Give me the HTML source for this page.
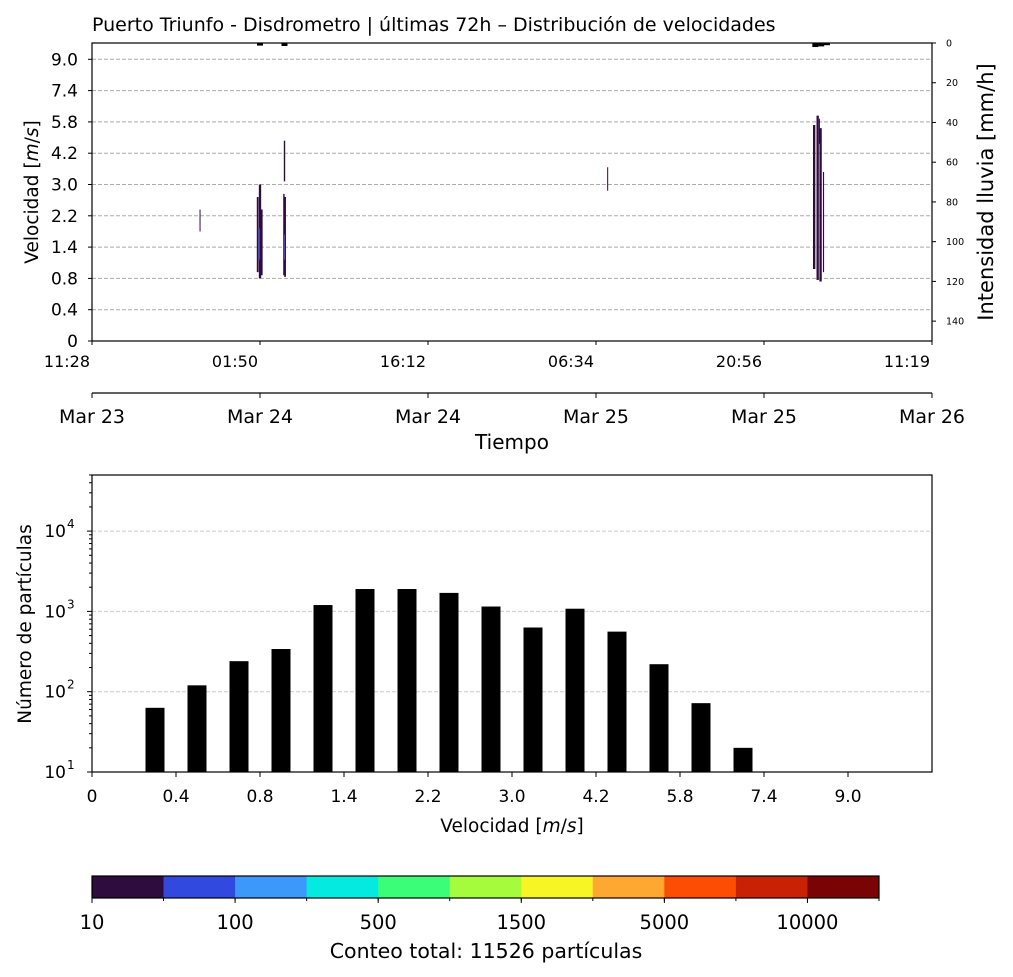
<!DOCTYPE html>
<html><head><meta charset="utf-8"><style>
body{margin:0;background:#fff;}
svg{display:block;font-family:"DejaVu Sans","Liberation Sans",sans-serif;}
</style></head><body>
<svg id="fig" width="1013" height="977" viewBox="0 0 1013 977" xmlns="http://www.w3.org/2000/svg">
<rect width="1013" height="977" fill="#fff"/>
<text x="92" y="31" font-size="19">Puerto Triunfo - Disdrometro | últimas 72h – Distribución de velocidades</text>
<g id="top"></g>
<g id="bot"></g>
<g id="cbar"></g>
</svg>
<script>
const velLabels=["0","0.4","0.8","1.4","2.2","3.0","4.2","5.8","7.4","9.0"];
const timeLabels=["11:28","01:50","16:12","06:34","20:56","11:19"];
const dateLabels=["Mar 23","Mar 24","Mar 24","Mar 25","Mar 25","Mar 26"];
const rainTicks=[0,20,40,60,80,100,120,140];
// rain intensity (mm/h) at event times
const rainTime=[14.4,16.5,62.0,62.5,63.0];
const rainValue=[0.8,1.0,1.5,1.2,0.6];
// heatmap events: time (hours since start), velocity-class range (index units), colour class
const evTime=[9.26,14.2,14.4,14.55,14.35,16.45,16.55,16.5,16.5,44.2,61.9,62.2,62.45,62.7,62.35];
const evVmin=[3.5,2.2,2.0,2.1,2.6,2.1,2.05,2.6,5.1,4.8,2.3,1.95,1.9,2.2,6.3];
const evVmax=[4.2,4.6,5.0,4.2,3.6,4.7,4.6,3.4,6.4,5.55,6.9,7.2,6.8,5.4,7.1];
const evWidth=[0.08,0.15,0.2,0.15,0.08,0.12,0.15,0.06,0.12,0.06,0.2,0.2,0.2,0.1,0.08];
const evClass=[0,0,0,0,1,0,0,1,0,0,0,0,0,0,0];
// histogram
const binCenters=[0.75,1.25,1.75,2.25,2.75,3.25,3.75,4.25,4.75,5.25,5.75,6.25,6.75,7.25,7.75];
const binCounts=[63,120,240,340,1200,1900,1900,1700,1150,630,1080,560,220,72,20];
const cbColors=["#2f0c3e","#3249e0","#3c98fb","#05eae0","#3cfd78","#a4fc3c","#f8f524","#fea731","#fd4c03","#c92103","#7a0403"];
const cbLabels=["10","100","500","1500","5000","10000"];
const totalCount=11526;

const NS="http://www.w3.org/2000/svg";
function mk(p,t,a,txt){const e=document.createElementNS(NS,t);for(const k in a)e.setAttribute(k,a[k]);if(txt!==undefined)e.textContent=txt;p.appendChild(e);return e;}
const T=document.getElementById('top');
const tx=h=>92+h/72*840, vy=i=>341-i*31.3, ry=r=>43+r/150*298;
for(let i=0;i<velLabels.length;i++){
 const y=vy(i);
 if(i>0){const g=mk(T,'line',{x1:92,x2:932,y1:y,y2:y,stroke:'#aaa','stroke-dasharray':'4,2'});
 
 }
 mk(T,'line',{x1:88,x2:92,y1:y,y2:y,stroke:'#000'});
 const t=mk(T,'text',{x:78,y:y+6,'font-size':17,'text-anchor':'end'},velLabels[i]);
 
 
}
for(let i=0;i<evTime.length;i++){
 const w=Math.max(1,evWidth[i]*11.67);
 const r=mk(T,'rect',{x:tx(evTime[i])-w/2,y:vy(evVmax[i]),width:w,height:vy(evVmin[i])-vy(evVmax[i]),fill:cbColors[evClass[i]]});
 
 
}
for(let i=0;i<rainTime.length;i++){
 const x=tx(rainTime[i]);
 const r=mk(T,'rect',{x:x-3,y:43,width:6,height:ry(rainValue[i])-43+1,fill:'#000'});
 
 
}
mk(T,'rect',{x:92,y:43,width:840,height:298,fill:'none',stroke:'#000','stroke-width':1.2});
for(const r of rainTicks){const y=ry(r);mk(T,'line',{x1:932,x2:936,y1:y,y2:y,stroke:'#000'});
 const t=mk(T,'text',{x:946,y:y+3.5,'font-size':9.5},r);
 
 }
for(let i=0;i<timeLabels.length;i++){
 const x=92+i*168;
 mk(T,'line',{x1:x,x2:x,y1:341,y2:345,stroke:'#000'});
 const t=mk(T,'text',{x:x-2,y:367,'font-size':16,'text-anchor':'end'},timeLabels[i]);
 
 
 mk(T,'line',{x1:x,x2:x,y1:393,y2:398,stroke:'#000'});
 const d=mk(T,'text',{x:x,y:423,'font-size':19,'text-anchor':'middle'},dateLabels[i]);
 
 
}
mk(T,'line',{x1:92,x2:932,y1:393,y2:393,stroke:'#000','stroke-width':1.2});
mk(T,'text',{x:512,y:449,'font-size':20,'text-anchor':'middle',},'Tiempo');
const yt=mk(T,'text',{transform:'translate(38,192) rotate(-90)','font-size':18.5,'text-anchor':'middle',});
yt.innerHTML='Velocidad [<tspan font-style="italic">m</tspan>/<tspan font-style="italic">s</tspan>]';
mk(T,'text',{transform:'translate(993,192) rotate(-90)','font-size':21,'text-anchor':'middle',},'Intensidad lluvia [mm/h]');
// bottom histogram
const B=document.getElementById('bot');
const bx=i=>92+i*84, by=c=>772-(Math.log10(c)-1)*80.3;
for(const d of [2,3,4]){const y=by(Math.pow(10,d));mk(B,'line',{x1:92,x2:932,y1:y,y2:y,stroke:'#ccc','stroke-dasharray':'4,2'});}
for(let d=1;d<=4;d++){
 const y=by(Math.pow(10,d));mk(B,'line',{x1:87,x2:92,y1:y,y2:y,stroke:'#000'});
 const t=mk(B,'text',{x:66,y:y+6,'font-size':17,'text-anchor':'end'},'10');
 
 
 mk(B,'text',{x:67,y:y-3,'font-size':12},d);
 for(let m=2;m<10&&d<4||(d==4&&m<6);m++){const yy=by(m*Math.pow(10,d));mk(B,'line',{x1:89,x2:92,y1:yy,y2:yy,stroke:'#000'});}
}
for(let i=0;i<binCounts.length;i++){
 const x=bx(binCenters[i]),y=by(binCounts[i]);
 const r=mk(B,'rect',{x:x-9.5,y:y,width:19,height:772-y,fill:'#000'});
 
 
}
mk(B,'rect',{x:92,y:475,width:840,height:297,fill:'none',stroke:'#000','stroke-width':1.2});
for(let i=0;i<velLabels.length;i++){const x=bx(i);mk(B,'line',{x1:x,x2:x,y1:772,y2:777,stroke:'#000'});
 const t=mk(B,'text',{x:x,y:802,'font-size':17,'text-anchor':'middle'},velLabels[i]);
 
 }
const hx=mk(B,'text',{x:512,y:832,'font-size':18.5,'text-anchor':'middle',});
hx.innerHTML='Velocidad [<tspan font-style="italic">m</tspan>/<tspan font-style="italic">s</tspan>]';
mk(B,'text',{transform:'translate(31,624) rotate(-90)','font-size':18.5,'text-anchor':'middle',},'Número de partículas');
// colorbar
const C=document.getElementById('cbar');
const cw=787/cbColors.length;
for(let i=0;i<cbColors.length;i++){
 const r=mk(C,'rect',{x:92+i*cw,y:876,width:cw+0.5,height:22,fill:cbColors[i]});
 
 
 mk(C,'line',{x1:92+(i+1)*cw,x2:92+(i+1)*cw,y1:898,y2:901,stroke:'#000'});
}
mk(C,'rect',{x:92,y:876,width:787,height:22,fill:'none',stroke:'#000','stroke-width':1.2});
for(let i=0;i<cbLabels.length;i++){const x=92+i*2*cw;mk(C,'line',{x1:x,x2:x,y1:898,y2:903,stroke:'#000'});
 const t=mk(C,'text',{x:x,y:929,'font-size':19.5,'text-anchor':'middle'},cbLabels[i]);
 
 }
mk(C,'text',{x:486,y:958,'font-size':20.5,'text-anchor':'middle',},'Conteo total: '+totalCount+' partículas');
</script>
</body></html>
